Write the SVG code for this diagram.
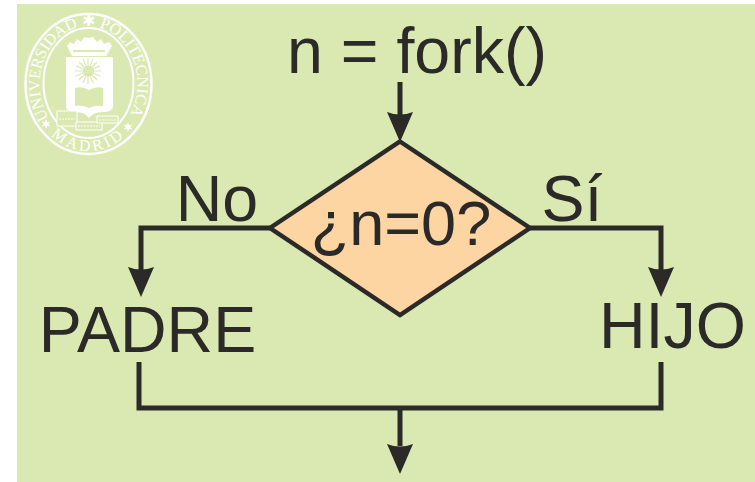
<svg xmlns="http://www.w3.org/2000/svg" width="755" height="482" viewBox="0 0 755 482">
<style>
.t{font-family:"Liberation Sans",Arial,sans-serif;fill:#2b2a29;font-size:64.500px;text-anchor:middle}
.c{fill:none;stroke:#2b2a29;stroke-width:5}
.h{fill:#2b2a29;stroke:none}
.s{font-family:"Liberation Serif","Times New Roman",serif;fill:#fff;font-size:16px}
.g{fill:#dae9b2}
</style>
<defs>
<path id="top" d="M48.800 118A49 58 0 1 1 128.200 118"/>
<path id="bot" d="M42 124A58 67 0 0 0 135 124"/>
<path id="ah" d="M-13 -30Q0 -25 13 -30L0 0Z"/>
<path id="star" fill="#fff" d="M0 -5L1.200 -1.800L4.300 -2.500L2.200 0L4.300 2.500L1.200 1.800L0 5L-1.200 1.800L-4.300 2.500L-2.200 0L-4.300 -2.500L-1.200 -1.800Z"/>
</defs>
<rect x="17" y="4" width="738" height="478" fill="#dae9b2"/>
<g id="seal">
<ellipse cx="88.500" cy="84" rx="63" ry="70" fill="none" stroke="#fff" stroke-width="2.500"/>
<ellipse cx="88.500" cy="83" rx="45" ry="55" fill="none" stroke="#fff" stroke-width="2"/>
<text class="s"><textPath href="#top">UNIVERSIDAD ✱ POLITECNICA</textPath></text>
<text class="s" text-anchor="middle" letter-spacing="3"><textPath href="#bot" startOffset="50%">MADRID</textPath></text>
<use href="#star" x="46" y="124"/>
<use href="#star" x="128" y="127"/>
<path fill="#fff" d="M66 57H113V106Q113 112 103 112Q93 112 89 118Q85 112 75 112Q66 112 66 106Z"/>
<path fill="#fff" d="M72 56L67 46L70 42L74 44L77 39L81 42L84 37L89 38L93 37L97 42L101 39L104 44L109 42L112 46L106 56Z"/>
<path class="g" d="M73 50H105V52H73Z"/>
<g fill="none" stroke="#dae9b2" stroke-width="1.200">
<path d="M88 58V84M75 71H101M79 62L97 80M97 62L79 80M83 59L93 83M93 59L83 83M76 66L100 76M100 66L76 76"/>
</g>
<circle class="g" cx="88.500" cy="71" r="5.500"/>
<path class="g" d="M75 88Q82 86 89 90Q96 86 103 88V106Q95 105 89 108Q83 105 75 106Z"/>
<g fill="#dae9b2" stroke="#fff" stroke-width="1">
<path d="M57 111H77V126H57Z"/>
<path d="M76 122H102V130H76Z"/>
<path d="M97 116H118V123H97Z"/>
</g>
<path fill="none" stroke="#fff" stroke-width="1" stroke-dasharray="2 1" d="M59 119H75M78 126H100M99 120H116"/>
</g>
<g id="connectors">
<path class="c" d="M400 82V115"/>
<use class="h" href="#ah" x="400" y="142"/>
<path class="c" d="M272 228H141V270"/>
<use class="h" href="#ah" x="141" y="297"/>
<path class="c" d="M528 228H661V270"/>
<use class="h" href="#ah" x="661" y="297"/>
<path class="c" d="M139 362V408H661V362"/>
<path class="c" d="M400 408V446"/>
<use class="h" href="#ah" x="400" y="474"/>
</g>
<g id="start"><text class="t" x="417" y="72.500">n = fork()</text></g>
<g id="decision">
<path d="M400 141.500L530 228L400 315L270 228Z" fill="#fdd5a3" stroke="#2b2a29" stroke-width="4.500"/>
<text class="t" x="401" y="245" style="font-size:63px">¿n=0?</text>
</g>
<g id="label-no"><text class="t" x="217" y="221">No</text></g>
<g id="label-si"><text class="t" x="572" y="221">Sí</text></g>
<g id="padre"><text class="t" x="147.500" y="352">PADRE</text></g>
<g id="hijo"><text class="t" x="672.500" y="348">HIJO</text></g>
</svg>
